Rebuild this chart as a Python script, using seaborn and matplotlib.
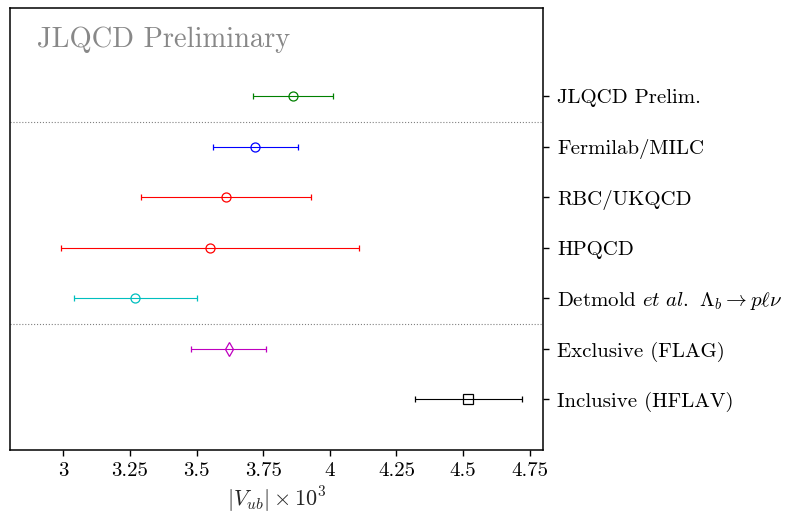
import matplotlib
matplotlib.use("Agg")
import matplotlib.pyplot as plt
import seaborn as sns
import pandas as pd

# |V_ub| x 10^3 determinations (central value, symmetric error)
labels = ["JLQCD Prelim.", "Fermilab/MILC", "RBC/UKQCD", "HPQCD",
          r"Detmold $\mathit{et\ al.}$ $\Lambda_b \to p\ell\nu$",
          "Exclusive (FLAG)", "Inclusive (HFLAV)"]
values = [3.86, 3.72, 3.61, 3.55, 3.27, 3.62, 4.52]
errors = [0.15, 0.16, 0.32, 0.56, 0.23, 0.14, 0.20]
colors = ["g", "b", "r", "r", "c", "m", "k"]
markers = ["o", "o", "o", "o", "o", "d", "s"]
xticks = [3.0, 3.25, 3.5, 3.75, 4.0, 4.25, 4.5, 4.75]
xtick_labels = ["3", "3.25", "3.5", "3.75", "4", "4.25", "4.5", "4.75"]

sns.set_style("ticks")
plt.rcParams.update({
    "font.family": "serif",
    "font.serif": ["cmr10"],
    "mathtext.fontset": "cm",
    "axes.unicode_minus": False,
    "axes.formatter.use_mathtext": True,
    "font.size": 15,
})

n = len(labels)
df = pd.DataFrame({"label": labels, "value": values, "error": errors,
                   "y": [n - 1 - i for i in range(n)]})

fig = plt.figure(figsize=(7.91, 5.14), dpi=100)
ax = fig.add_axes([0.0126, 0.1245, 0.674, 0.86])

for (_, row), c, m in zip(df.iterrows(), colors, markers):
    ax.errorbar(row["value"], row["y"], xerr=row["error"], fmt=m, color=c,
                mfc="none", mec=c, ms=6.5 if m != "d" else 7.5, mew=0.9,
                elinewidth=0.8, capsize=2.2, capthick=0.8)

# separators between groups
ax.axhline(5.5, color="gray", ls=":", lw=0.8)
ax.axhline(1.5, color="gray", ls=":", lw=0.8)

ax.set_xlim(2.8, 4.8)
ax.set_ylim(-1.0, 7.75)
ax.set_xticks(xticks)
ax.set_xticklabels(xtick_labels, fontsize=15)
ax.set_yticks(df["y"])
ax.set_yticklabels(df["label"], fontsize=15)
ax.yaxis.tick_right()
ax.tick_params(axis="both", direction="out", length=4, width=1, colors="k")
ax.tick_params(axis="y", pad=6)
ax.tick_params(axis="x", pad=5)
ax.set_xlabel(r"$|V_{ub}| \times 10^3$", fontsize=16, labelpad=3)
for s in ax.spines.values():
    s.set_linewidth(1.1)
    s.set_color("k")

ax.text(0.05, 0.929, "JLQCD Preliminary", transform=ax.transAxes,
        fontsize=20.5, color="#888888", va="center", ha="left")

fig.savefig("out.png", dpi=100)
